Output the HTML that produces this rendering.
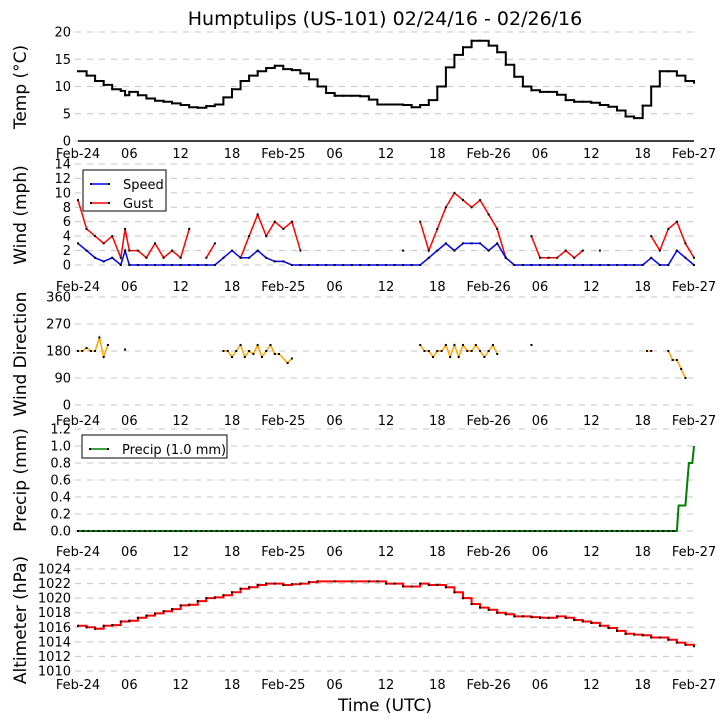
<!DOCTYPE html>
<html><head><meta charset="utf-8"><style>
body{margin:0;background:#fff;font-family:"Liberation Sans","DejaVu Sans",sans-serif}
svg{display:block}
text{font-family:"DejaVu Sans","Liberation Sans",sans-serif}
</style></head><body>
<svg id="c" width="726" height="725"></svg>
<script>
const tempT=[0,1,2,3,4,5,5.5,6,7,8,9,10,11,12,13,14,15,16,17,18,19,20,21,22,23,24,25,26,27,28,29,30,31,32,33,34,35,36,37,38,39,40,41,42,43,44,45,46,47,48,49,50,51,52,53,54,55,56,57,58,59,60,61,62,63,64,65,66,67,68,69,70,71,72];
const tempV=[12.8,12,11,10.3,9.5,9.2,8.4,9,8.4,7.8,7.4,7.2,6.9,6.6,6.2,6.1,6.4,6.7,8,9.5,11,12,12.8,13.4,13.8,13.2,13,12.4,11.3,10,8.8,8.3,8.3,8.3,8.2,7.6,6.7,6.7,6.7,6.6,6.2,6.6,7.5,10,13.5,15.8,17.2,18.4,18.4,17.5,16.3,14,11.8,10,9.3,9,9,8.5,7.5,7.2,7.2,7,6.6,6.3,5.6,4.5,4.2,6.5,10,12.8,12.8,12,11,10.7];
const windT=[0,1,2,3,4,5,5.5,6,7,8,9,10,11,12,13,14,15,16,17,18,19,20,21,22,23,24,25,26,27,28,29,30,31,32,33,34,35,36,37,38,39,40,41,42,43,44,45,46,47,48,49,50,51,52,53,54,55,56,57,58,59,60,61,62,63,64,65,66,67,68,69,70,71,72];
const speedV=[3,2,1,0.5,1,0,2,0,0,0,0,0,0,0,0,0,0,0,1,2,1,1,2,1,0.5,0.5,0,0,0,0,0,0,0,0,0,0,0,0,0,0,0,0,1,2,3,2,3,3,3,2,3,1,0,0,0,0,0,0,0,0,0,0,0,0,0,0,0,0,1,0,0,2,1,0];
const gustV=[9,5,4,3,4,1,5,2,2,1,3,1,2,1,5,null,1,3,null,null,1,4,7,4,6,5,6,2,null,null,null,null,null,null,null,null,null,null,null,2,null,6,2,5,8,10,9,8,9,7,5,1,null,null,4,1,1,1,2,1,2,null,2,null,null,null,null,null,4,2,5,6,3,1];
const dirT=[0,0.5,1,1.5,2,2.5,3,3.5,5.5,17,17.5,18,18.5,19,19.5,20,20.5,21,21.5,22,22.5,23,23.5,24.5,25,40,40.5,41,41.5,42,42.5,43,43.5,44,44.5,45,45.5,46,46.5,47,47.5,48,48.5,49,53,66.5,67,69,69.5,70,70.5,71];
const dirV=[180,180,190,180,180,225,160,200,185,180,180,160,180,200,160,180,170,200,160,180,200,170,170,140,155,200,180,180,160,180,180,200,160,200,160,200,180,180,200,180,160,180,200,170,200,180,180,180,150,150,120,90];
const precT=[0,10,20,30,40,50,60,70,70.2,71,71.4,71.8,72];
const precV=[0,0,0,0,0,0,0,0,0.3,0.3,0.8,0.8,1.0];
const altT=[0,1,2,3,4,5,6,7,8,9,10,11,12,13,14,15,16,17,18,19,20,21,22,23,24,25,26,27,28,30,32,34,35,36,37,38,39,40,41,42,43,44,45,46,47,48,49,50,51,52,53,54,55,56,57,58,59,60,61,62,63,64,65,66,67,68,69,70,71,72];
const altV=[1016.2,1016,1015.8,1016.2,1016.3,1016.8,1016.9,1017.3,1017.6,1017.9,1018.2,1018.5,1019,1019.1,1019.6,1020,1020.1,1020.4,1020.8,1021.3,1021.5,1021.8,1022,1022,1021.8,1021.9,1022,1022.2,1022.3,1022.3,1022.3,1022.3,1022.3,1022,1022,1021.6,1021.6,1022,1021.8,1021.8,1021.5,1020.8,1020,1019.2,1018.7,1018.4,1018,1017.8,1017.5,1017.5,1017.4,1017.3,1017.3,1017.5,1017.3,1017,1016.8,1016.6,1016.2,1015.9,1015.5,1015.1,1015,1014.9,1014.6,1014.6,1014.3,1013.9,1013.6,1013.4];
const xTicks=["Feb-24","06","12","18","Feb-25","06","12","18","Feb-26","06","12","18","Feb-27"];

const NS="http://www.w3.org/2000/svg",svg=document.getElementById('c');
function el(t,a,p){const e=document.createElementNS(NS,t);for(const k in a)e.setAttribute(k,a[k]);(p||svg).appendChild(e);return e;}
const X0=78,X1=694;function xs(h){return X0+(X1-X0)*h/72;}
function txt(s,x,y,sz,anchor,name,rot){const t=el('text',{x:x,y:y,'font-size':sz,'text-anchor':anchor||'middle',fill:'#000'});if(rot)t.setAttribute('transform','rotate(-90 '+x+' '+y+')');t.textContent=s;return t;}
function panel(name,yTop,yBot,vmin,vmax,ticks,fmt,label,labelY,xlabY){
 const g=el('g',{});
 const ys=v=>yBot-(v-vmin)/(vmax-vmin)*(yBot-yTop);
 ticks.forEach(v=>{const l=el('line',{x1:75,x2:X1,y1:ys(v),y2:ys(v),stroke:'#c4c4c4','stroke-dasharray':'6,6'},g);
  txt(fmt(v),71,ys(v)+4.5,13,'end','y-tick-label');});
 xTicks.forEach((s,i)=>txt(s,xs(i*6),xlabY,13,'middle','x-tick-label'));
 txt(label,26,labelY,17,'middle','y-axis-title',true);
 return {g,ys};
}
function series(p,T,V,color,name,mk,w,step,maxGap){
 let d='';let pen=false;let lt=null,ly=null;
 T.forEach((t,i)=>{const v=V[i];if(v===null||v===undefined){pen=false;return;}
  if(pen&&maxGap&&t-lt>maxGap)pen=false;
  const x=xs(t),y=p.ys(v);
  if(pen&&step){d+='L'+x.toFixed(1)+' '+ly.toFixed(1);}
  d+=(pen?'L':'M')+x.toFixed(1)+' '+y.toFixed(1);pen=true;lt=t;ly=y;});
 const path=el('path',{d:d,fill:'none',stroke:color,'stroke-width':w||1.5},p.g);
 
 if(mk)T.forEach((t,i)=>{const v=V[i];if(v===null)return;const c=el('rect',{x:xs(t)-1,y:p.ys(v)-1,width:2,height:2,fill:'#000'},p.g);});
}
txt('Humptulips (US-101) 02/24/16 - 02/26/16',385,25,19,'middle','chart-title');
const p1=panel('temp',32,141,0,20,[0,5,10,15,20],v=>v,'Temp (\u00b0C)',87,158);
el('line',{x1:X0,x2:X1,y1:141,y2:141,stroke:'#000','stroke-width':1.5},p1.g);
series(p1,tempT,tempV,'#000','temp',true,2,true);
const p2=panel('wind',164,265,0,14,[0,2,4,6,8,10,12,14],v=>v,'Wind (mph)',215,291);
series(p2,windT,gustV,'#f00','gust',true,1.5);
series(p2,windT,speedV,'#00f','speed',true,1.5);
const p3=panel('winddir',297,405,0,360,[0,90,180,270,360],v=>v,'Wind Direction',354,425);
series(p3,dirT,dirV,'orange','wind-direction',true,1.5,false,1.01);
const p4=panel('precip',429,531,0,1.2,[0,0.2,0.4,0.6,0.8,1.0,1.2],v=>v.toFixed(1),'Precip (mm)',480,556);
series(p4,precT,precV,'green','precip',false,2);
for(let h=0;h<=70;h+=0.6){const r=el('rect',{x:xs(h)-1,y:530,width:2,height:2,fill:'#000'},p4.g);}
const p5=panel('altimeter',569,671,1010,1024,[1010,1012,1014,1016,1018,1020,1022,1024],v=>v,'Altimeter (hPa)',620,689);
series(p5,altT,altV,'#f00','altimeter',true,2,true);
txt('Time (UTC)',385,711,17,'middle','x-axis-title');
function legend(x,y,w,h,items){const g=el('g',{});
 el('rect',{x:x,y:y,width:w,height:h,fill:'#fff',stroke:'#000','stroke-width':1},g);
 items.forEach((it,i)=>{const yy=y+14+i*19;el('line',{x1:x+7,x2:x+27,y1:yy,y2:yy,stroke:it[1],'stroke-width':1.5},g);
  el('rect',{x:x+7,y:yy-1,width:2,height:2,fill:'#000'},g);el('rect',{x:x+25,y:yy-1,width:2,height:2,fill:'#000'},g);
  const t=txt(it[0],x+40,yy+5,13,'start','legend-entry');g.appendChild(t);});}
legend(83,170,83,41,[['Speed','#00f'],['Gust','#f00']]);
legend(82,435,145,23,[['Precip (1.0 mm)','green']]);
</script></body></html>
